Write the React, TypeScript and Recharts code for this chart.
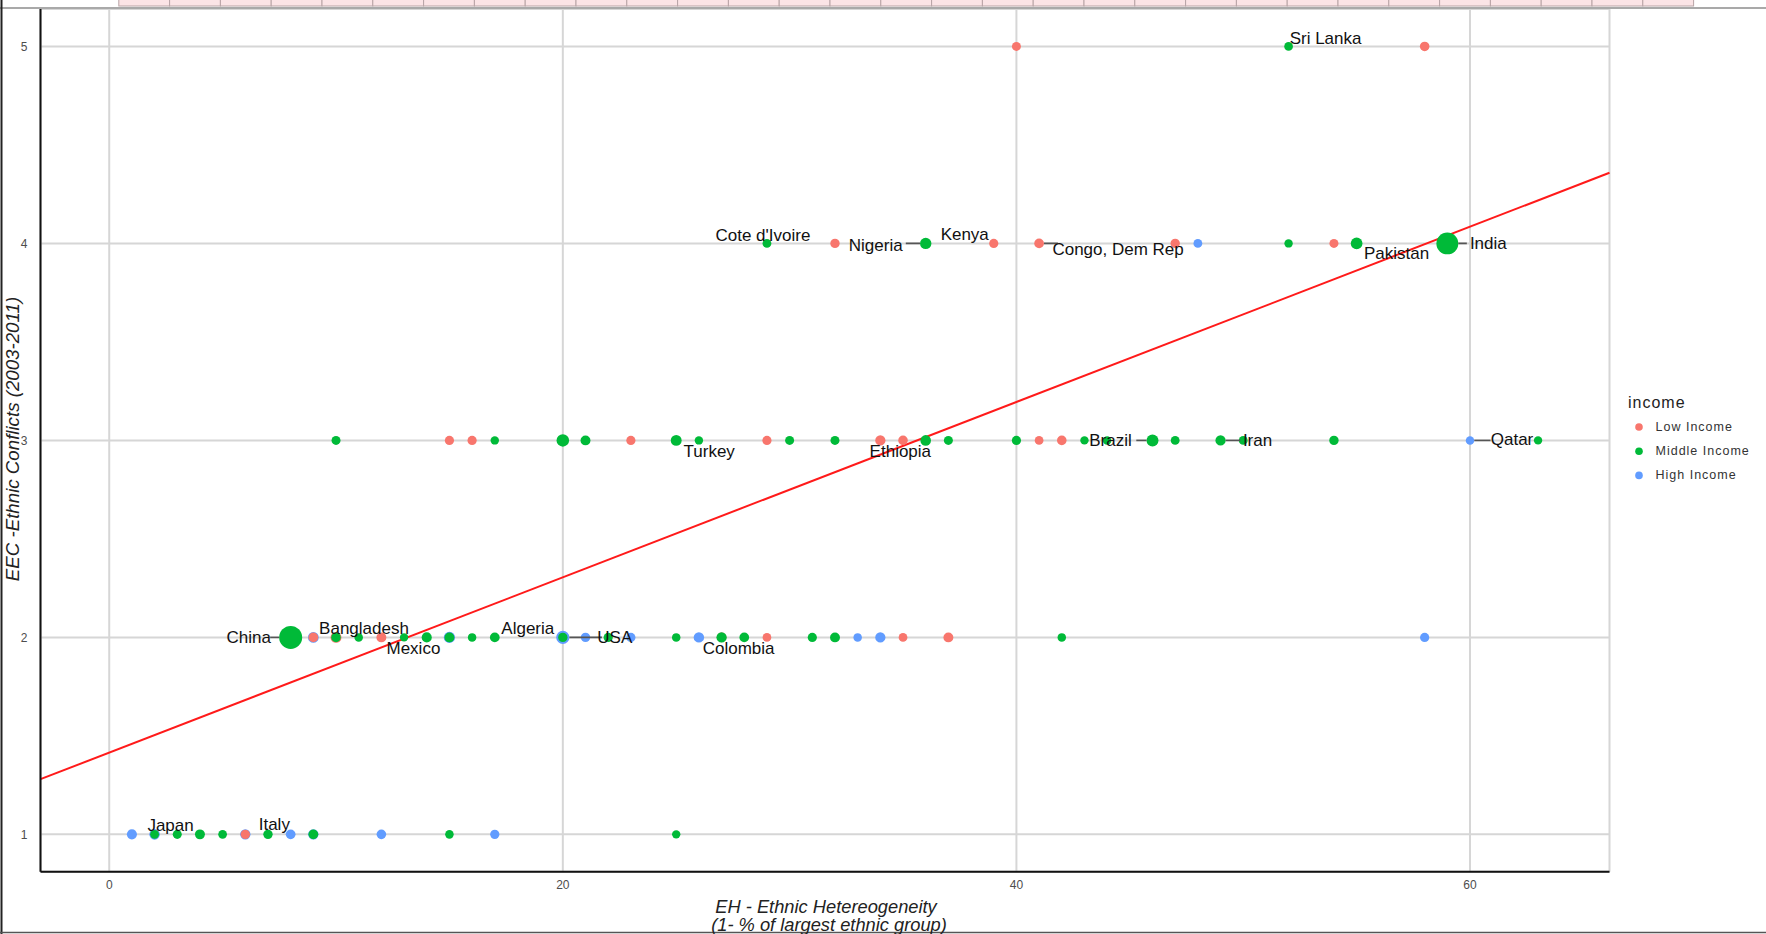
import React from 'react';
import {
  ScatterChart,
  Scatter,
  XAxis,
  YAxis,
  ZAxis,
  CartesianGrid,
  ReferenceLine,
} from 'recharts';

type Pt = { eh: number; eec: number; pop: number; name?: string };

// Countries by income group: EH (% not in the largest ethnic group), EEC score, size value
const lowIncome: Pt[] = [
  { eh: 40, eec: 5, pop: 40 },
  { eh: 58, eec: 5, pop: 70 },
  { eh: 32, eec: 4, pop: 60 },
  { eh: 39, eec: 4, pop: 50, name: 'Kenya' },
  { eh: 41, eec: 4, pop: 80, name: 'Congo, Dem Rep' },
  { eh: 47, eec: 4, pop: 60 },
  { eh: 54, eec: 4, pop: 40 },
  { eh: 15, eec: 3, pop: 50 },
  { eh: 16, eec: 3, pop: 50 },
  { eh: 23, eec: 3, pop: 50 },
  { eh: 29, eec: 3, pop: 50 },
  { eh: 34, eec: 3, pop: 110, name: 'Ethiopia' },
  { eh: 35, eec: 3, pop: 70 },
  { eh: 41, eec: 3, pop: 25 },
  { eh: 42, eec: 3, pop: 70 },
  { eh: 9, eec: 2, pop: 80 },
  { eh: 10, eec: 2, pop: 150, name: 'Bangladesh' },
  { eh: 12, eec: 2, pop: 90 },
  { eh: 27, eec: 2, pop: 80 },
  { eh: 29, eec: 2, pop: 25 },
  { eh: 35, eec: 2, pop: 25 },
  { eh: 37, eec: 2, pop: 90 },
  { eh: 6, eec: 1, pop: 60 },
];

const middleIncome: Pt[] = [
  { eh: 52, eec: 5, pop: 25, name: 'Sri Lanka' },
  { eh: 29, eec: 4, pop: 30, name: "Cote d'Ivoire" },
  { eh: 36, eec: 4, pop: 180, name: 'Nigeria' },
  { eh: 52, eec: 4, pop: 10 },
  { eh: 55, eec: 4, pop: 200, name: 'Pakistan' },
  { eh: 59, eec: 4, pop: 1200, name: 'India' },
  { eh: 10, eec: 3, pop: 40 },
  { eh: 17, eec: 3, pop: 10 },
  { eh: 20, eec: 3, pop: 260 },
  { eh: 21, eec: 3, pop: 90 },
  { eh: 25, eec: 3, pop: 150, name: 'Turkey' },
  { eh: 26, eec: 3, pop: 10 },
  { eh: 30, eec: 3, pop: 40 },
  { eh: 32, eec: 3, pop: 40 },
  { eh: 36, eec: 3, pop: 130 },
  { eh: 37, eec: 3, pop: 40 },
  { eh: 40, eec: 3, pop: 50 },
  { eh: 43, eec: 3, pop: 8 },
  { eh: 44, eec: 3, pop: 15 },
  { eh: 46, eec: 3, pop: 220, name: 'Brazil' },
  { eh: 47, eec: 3, pop: 30 },
  { eh: 49, eec: 3, pop: 110, name: 'Iran' },
  { eh: 50, eec: 3, pop: 30 },
  { eh: 54, eec: 3, pop: 60 },
  { eh: 63, eec: 3, pop: 8 },
  { eh: 8, eec: 2, pop: 1340, name: 'China' },
  { eh: 10, eec: 2, pop: 70 },
  { eh: 11, eec: 2, pop: 15 },
  { eh: 13, eec: 2, pop: 8 },
  { eh: 14, eec: 2, pop: 100 },
  { eh: 15, eec: 2, pop: 90, name: 'Mexico' },
  { eh: 16, eec: 2, pop: 15 },
  { eh: 17, eec: 2, pop: 80, name: 'Algeria' },
  { eh: 20, eec: 2, pop: 60 },
  { eh: 22, eec: 2, pop: 50 },
  { eh: 25, eec: 2, pop: 15 },
  { eh: 27, eec: 2, pop: 110, name: 'Colombia' },
  { eh: 28, eec: 2, pop: 80 },
  { eh: 31, eec: 2, pop: 50 },
  { eh: 32, eec: 2, pop: 90 },
  { eh: 42, eec: 2, pop: 15 },
  { eh: 2, eec: 1, pop: 30 },
  { eh: 3, eec: 1, pop: 40 },
  { eh: 4, eec: 1, pop: 90 },
  { eh: 5, eec: 1, pop: 25 },
  { eh: 7, eec: 1, pop: 60 },
  { eh: 9, eec: 1, pop: 80 },
  { eh: 15, eec: 1, pop: 15 },
  { eh: 25, eec: 1, pop: 8 },
];

const highIncome: Pt[] = [
  { eh: 48, eec: 4, pop: 30 },
  { eh: 60, eec: 3, pop: 15, name: 'Qatar' },
  { eh: 8, eec: 2, pop: 5 },
  { eh: 9, eec: 2, pop: 140 },
  { eh: 15, eec: 2, pop: 170 },
  { eh: 20, eec: 2, pop: 310, name: 'USA' },
  { eh: 21, eec: 2, pop: 60 },
  { eh: 23, eec: 2, pop: 50 },
  { eh: 26, eec: 2, pop: 120 },
  { eh: 33, eec: 2, pop: 15 },
  { eh: 34, eec: 2, pop: 110 },
  { eh: 58, eec: 2, pop: 50 },
  { eh: 1, eec: 1, pop: 100 },
  { eh: 2, eec: 1, pop: 127, name: 'Japan' },
  { eh: 6, eec: 1, pop: 120, name: 'Italy' },
  { eh: 8, eec: 1, pop: 80 },
  { eh: 9, eec: 1, pop: 120 },
  { eh: 12, eec: 1, pop: 70 },
  { eh: 17, eec: 1, pop: 50 },
];

const incomeGroups = ['Low Income', 'Middle Income', 'High Income'];
const xTicks = [0, 20, 40, 60];
const yTicks = [1, 2, 3, 4, 5];
const xDomain: [number, number] = [-3.03, 66.15];
const yDomain: [number, number] = [0.81, 5.19];

// Least-squares fit of EEC on EH
const fitIntercept = 1.415;
const fitSlope = 0.0445;

const COLORS: Record<string, string> = {
  'Low Income': '#F8766D',
  'Middle Income': '#00BA38',
  'High Income': '#619CFF',
};

// Where each country's name sits relative to its point (px)
const labelOffsets: Record<string, { dx: number; dy: number }> = {
  'Sri Lanka': { dx: 37, dy: -8 },
  "Cote d'Ivoire": { dx: -4, dy: -8 },
  Nigeria: { dx: -50, dy: 2 },
  Kenya: { dx: -29, dy: -9 },
  'Congo, Dem Rep': { dx: 79, dy: 6 },
  Pakistan: { dx: 40, dy: 10 },
  India: { dx: 41, dy: 0 },
  Turkey: { dx: 33, dy: 11 },
  Ethiopia: { dx: 20, dy: 11 },
  Brazil: { dx: -42, dy: 0 },
  Iran: { dx: 37, dy: 0 },
  Qatar: { dx: 42, dy: -1 },
  China: { dx: -42, dy: 0 },
  Bangladesh: { dx: 28, dy: -9 },
  Mexico: { dx: -36, dy: 11 },
  Algeria: { dx: 33, dy: -9 },
  USA: { dx: 52, dy: 0 },
  Colombia: { dx: 17, dy: 11 },
  Japan: { dx: 16, dy: -9 },
  Italy: { dx: 29, dy: -10 },
};

const labelled = [...lowIncome, ...middleIncome, ...highIncome].filter((p) => p.name);

const LABEL_FONT = '"Liberation Sans", Arial, sans-serif';

const clamp = (v: number, lo: number, hi: number) => Math.max(lo, Math.min(hi, v));

const CountryLabel = (props: any) => {
  const { cx, cy, payload, size } = props;
  if (cx == null || cy == null || !payload?.name) return <g />;
  const off = labelOffsets[payload.name] || { dx: 0, dy: -12 };
  const tx = cx + off.dx;
  const ty = cy + off.dy;
  const w = payload.name.length * 8.6;
  const h = 15;
  const bx = clamp(cx, tx - w / 2, tx + w / 2);
  const by = clamp(cy, ty - h / 2, ty + h / 2);
  const dist = Math.hypot(bx - cx, by - cy);
  const r = size ? Math.sqrt(size / Math.PI) : 4;
  let seg = null;
  if (dist > r + 6) {
    const ux = (bx - cx) / dist;
    const uy = (by - cy) / dist;
    seg = (
      <line
        x1={cx + ux * r}
        y1={cy + uy * r}
        x2={bx}
        y2={by}
        stroke="#555"
        strokeWidth={1.6}
      />
    );
  }
  return (
    <g>
      {seg}
      <text
        x={tx}
        y={ty}
        textAnchor="middle"
        dominantBaseline="central"
        fontFamily={LABEL_FONT}
        fontSize={17}
        fill="#111"
      >
        {payload.name}
      </text>
    </g>
  );
};

const W = 1766;
const H = 934;

export default function App() {
  const fitStart = { x: xDomain[0], y: fitIntercept + fitSlope * xDomain[0] };
  const fitEnd = { x: xDomain[1], y: fitIntercept + fitSlope * xDomain[1] };
  const cells = Array.from({ length: 31 }, (_, i) => i);

  return (
    <div style={{ position: 'absolute', left: 0, top: 0, width: W, height: H, background: '#fff' }}>
      <ScatterChart
        width={W}
        height={H}
        margin={{ top: 9, right: 156.5, bottom: 22, left: 0 }}
      >
        <CartesianGrid stroke="#d6d6d6" strokeWidth={2} />
        <XAxis
          type="number"
          dataKey="eh"
          domain={xDomain}
          ticks={xTicks}
          allowDataOverflow
          height={40.2}
          tickSize={0}
          tickMargin={9}
          axisLine={{ stroke: '#111', strokeWidth: 2 }}
          tick={{ fill: '#4d4d4d', fontSize: 12, fontFamily: LABEL_FONT }}
        />
        <YAxis
          type="number"
          dataKey="eec"
          domain={yDomain}
          ticks={yTicks}
          allowDataOverflow
          width={40.5}
          tickSize={0}
          tickMargin={13}
          axisLine={{ stroke: '#111', strokeWidth: 2 }}
          tick={{ fill: '#4d4d4d', fontSize: 12, fontFamily: LABEL_FONT }}
        />
        <ZAxis type="number" dataKey="pop" domain={[0, 1340]} range={[53, 415]} />
        <Scatter name="High Income" data={highIncome} fill={COLORS['High Income']} isAnimationActive={false} />
        <Scatter name="Low Income" data={lowIncome} fill={COLORS['Low Income']} isAnimationActive={false} />
        <Scatter name="Middle Income" data={middleIncome} fill={COLORS['Middle Income']} isAnimationActive={false} />
        <ReferenceLine
          segment={[fitStart, fitEnd]}
          stroke="#ff1a1a"
          strokeWidth={2}
          ifOverflow="visible"
        />
        <Scatter
          name="labels"
          data={labelled}
          shape={<CountryLabel />}
          legendType="none"
          isAnimationActive={false}
        />
      </ScatterChart>

      <svg
        width={W}
        height={H}
        style={{ position: 'absolute', left: 0, top: 0, pointerEvents: 'none' }}
      >
        {/* window chrome */}
        {cells.map((i) => (
          <rect
            key={i}
            x={118.8 + i * 50.8}
            y={-1}
            width={50.8}
            height={7}
            fill="#fbe4e6"
            stroke="#b8a4a6"
            strokeWidth={1}
          />
        ))}
        <line x1={0} y1={8} x2={W} y2={8} stroke="#a9a9a9" strokeWidth={2} />
        <line x1={1.5} y1={0} x2={1.5} y2={H} stroke="#222" strokeWidth={2} />
        <line x1={0} y1={H - 1.5} x2={W} y2={H - 1.5} stroke="#555" strokeWidth={1.5} />

        {/* axis titles */}
        <text
          x={0}
          y={0}
          transform="translate(12 439) rotate(-90)"
          textAnchor="middle"
          dominantBaseline="central"
          fontFamily={LABEL_FONT}
          fontStyle="italic"
          fontSize={18.7}
          fill="#222"
        >
          EEC -Ethnic Conflicts (2003-2011)
        </text>
        <text
          x={826}
          y={906}
          textAnchor="middle"
          dominantBaseline="central"
          fontFamily={LABEL_FONT}
          fontStyle="italic"
          fontSize={18.3}
          fill="#222"
        >
          EH - Ethnic Hetereogeneity
        </text>
        <text
          x={829}
          y={924}
          textAnchor="middle"
          dominantBaseline="central"
          fontFamily={LABEL_FONT}
          fontStyle="italic"
          fontSize={18.3}
          fill="#222"
        >
          (1- % of largest ethnic group)
        </text>

        {/* legend */}
        <text
          x={1628}
          y={402}
          dominantBaseline="central"
          fontFamily={LABEL_FONT}
          fontSize={16}
          letterSpacing={1}
          fill="#222"
        >
          income
        </text>
        {incomeGroups.map((g, i) => (
          <g key={g}>
            <circle cx={1639} cy={427 + i * 24.2} r={3.8} fill={COLORS[g]} />
            <text
              x={1655.5}
              y={427 + i * 24.2}
              dominantBaseline="central"
              fontFamily={LABEL_FONT}
              fontSize={12.5}
              letterSpacing={1}
              fill="#333"
            >
              {g}
            </text>
          </g>
        ))}
      </svg>
    </div>
  );
}
